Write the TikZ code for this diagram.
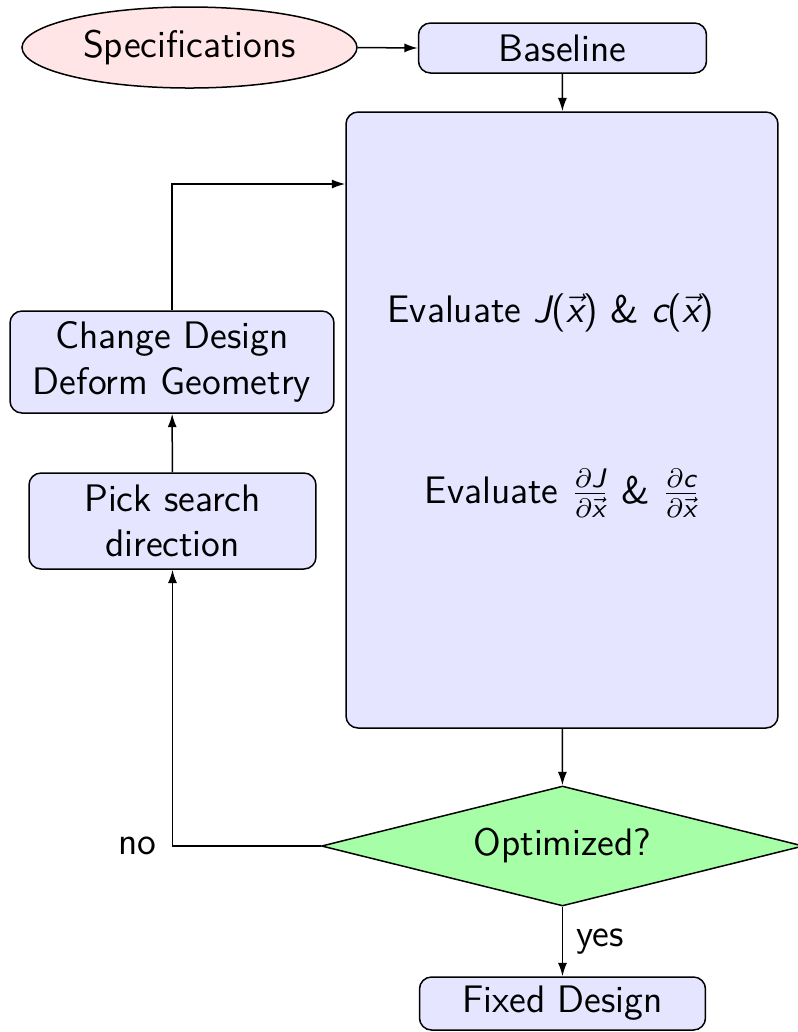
\documentclass[tikz,border=0pt]{standalone}
\usepackage{amsmath}
\usetikzlibrary{shapes.geometric,arrows.meta}
\newcommand\sfv[1]{\text{\sffamily\itshape #1}}
\newcommand\sfu[1]{\text{\sffamily #1}}
\begin{document}
\begin{tikzpicture}[x=0.3pt,y=-0.3pt,
  every node/.style={font=\sffamily\fontsize{11.5}{13.6}\selectfont, inner sep=0pt},
  box/.style={draw, rounded corners=3.6pt, fill=blue!10, align=center},
  arr/.style={-{Latex[length=4pt,width=2.7pt]}},
  line width=0.45pt]
\useasboundingbox (0,0) rectangle (798,1032);
\clip (0,0) rectangle (798,1032);
\node[draw, ellipse, fill=red!10, minimum width=100.5pt, minimum height=24.3pt] (spec) at (189.5,47.5) {Specifications};
\node[box, minimum width=86.4pt, minimum height=15pt] (base) at (562.5,48) {Baseline};
\node[box, minimum width=129.6pt, minimum height=184.8pt] (big) at (562,420) {};
\node (ev1) at (551,313) {Evaluate $\sfv{J}\sfu{(}\vec{\sfv{x}}\sfu{)}$ \& $\sfv{c}\sfu{(}\vec{\sfv{x}}\sfu{)}$};
\node (ev2) at (562.5,493) {Evaluate $\frac{\partial \sfv{J}}{\partial \vec{\sfv{x}}}$ \& $\frac{\partial \sfv{c}}{\partial \vec{\sfv{x}}}$};
\node[box, minimum width=97.2pt, minimum height=30.6pt] (change) at (172,362) {Change Design\\Deform Geometry};
\node[box, minimum width=86.1pt, minimum height=28.8pt] (pick) at (172.5,521) {Pick search\\direction};
\node[draw, diamond, fill=green!35, aspect=4, minimum width=144.6pt, minimum height=36pt] (dec) at (562.5,846) {Optimized?};
\node[box, minimum width=85.8pt, minimum height=15.9pt] (fixed) at (562.5,1003.5) {Fixed Design};
\coordinate (bigin) at (346,184);
\draw[arr] (spec.east) -- (base.west);
\draw[arr] (base) -- (big);
\draw[arr] (big) -- (dec);
\draw[arr] (dec) -- node[midway, right=4pt] {yes} (fixed);
\draw[arr] (dec.west) -| node[pos=0.5, left=4.5pt] {no} (pick.south);
\draw[arr] (pick) -- (change);
\draw[arr] (change.north) |- (big.west |- bigin);
\end{tikzpicture}
\end{document}
